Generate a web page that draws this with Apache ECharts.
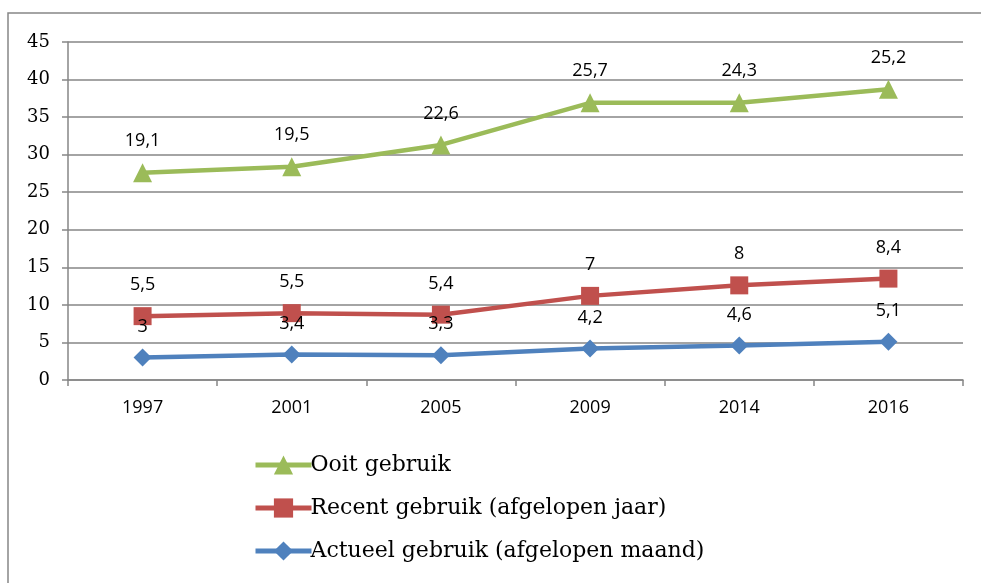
<!DOCTYPE html>
<html>
<head>
<meta charset="utf-8">
<script src="https://cdn.jsdelivr.net/npm/echarts@6/dist/echarts.min.js"></script>
<style>
  html, body { margin: 0; padding: 0; background: #fff; }
  #chart { width: 981px; height: 583px; }
</style>
</head>
<body>
<div id="chart"></div>
<script>
// jaren en waarden (Excel gestapelde lijn: labels tonen eigen waarde)
const years = ['1997', '2001', '2005', '2009', '2014', '2016'];
const actueel = [3, 3.4, 3.3, 4.2, 4.6, 5.1];
const recent = [5.5, 5.5, 5.4, 7, 8, 8.4];
const ooit = [19.1, 19.5, 22.6, 25.7, 24.3, 25.2];

const fmt = p => String(p.value).replace('.', ',');

const labelStyle = {
  show: true,
  position: 'top',
  distance: 13,
  formatter: fmt,
  color: '#000',
  fontFamily: 'Open Sans',
  fontSize: 18
};

const chart = echarts.init(document.getElementById('chart'));
chart.setOption({
  animation: false,
  graphic: [{
    type: 'rect',
    shape: { x: 8, y: 13, width: 1000, height: 600 },
    style: { fill: 'none', stroke: '#868686', lineWidth: 1.5 },
    silent: true
  }],
  grid: { left: 68, right: 18, top: 42, bottom: 203 },
  legend: {
    orient: 'vertical',
    left: 248,
    top: 449,
    itemGap: 21,
    itemWidth: 56,
    itemHeight: 24,
    lineStyle: { width: 5 },
    data: ['Ooit gebruik', 'Recent gebruik (afgelopen jaar)', 'Actueel gebruik (afgelopen maand)'],
    textStyle: { fontFamily: 'DejaVu Serif', fontSize: 22, color: '#000', padding: [0, 0, 0, -6] }
  },
  xAxis: {
    type: 'category',
    data: years,
    boundaryGap: true,
    axisLine: { lineStyle: { color: '#868686', width: 1.5 } },
    axisTick: { show: true, length: 6, lineStyle: { color: '#868686', width: 1.5 } },
    axisLabel: { color: '#000', fontFamily: 'Open Sans', fontSize: 18, margin: 19 }
  },
  yAxis: {
    type: 'value',
    min: 0,
    max: 45,
    interval: 5,
    axisLine: { show: true, lineStyle: { color: '#868686', width: 1.5 } },
    axisTick: { show: true, length: 6, lineStyle: { color: '#868686', width: 1.5 } },
    axisLabel: { color: '#000', fontFamily: 'DejaVu Serif', fontSize: 18, margin: 18 },
    splitLine: { lineStyle: { color: '#868686', width: 1.5 } }
  },
  series: [
    {
      name: 'Actueel gebruik (afgelopen maand)',
      type: 'line',
      stack: 'totaal',
      data: actueel,
      symbol: 'diamond',
      symbolSize: 18,
      color: '#4F81BD',
      lineStyle: { width: 4.5 },
      label: labelStyle
    },
    {
      name: 'Recent gebruik (afgelopen jaar)',
      type: 'line',
      stack: 'totaal',
      data: recent,
      symbol: 'rect',
      symbolSize: 18,
      color: '#C0504D',
      lineStyle: { width: 4.5 },
      label: labelStyle
    },
    {
      name: 'Ooit gebruik',
      type: 'line',
      stack: 'totaal',
      data: ooit,
      symbol: 'triangle',
      symbolSize: 19,
      color: '#9BBB59',
      lineStyle: { width: 4.5 },
      label: labelStyle
    }
  ]
});
</script>
</body>
</html>
